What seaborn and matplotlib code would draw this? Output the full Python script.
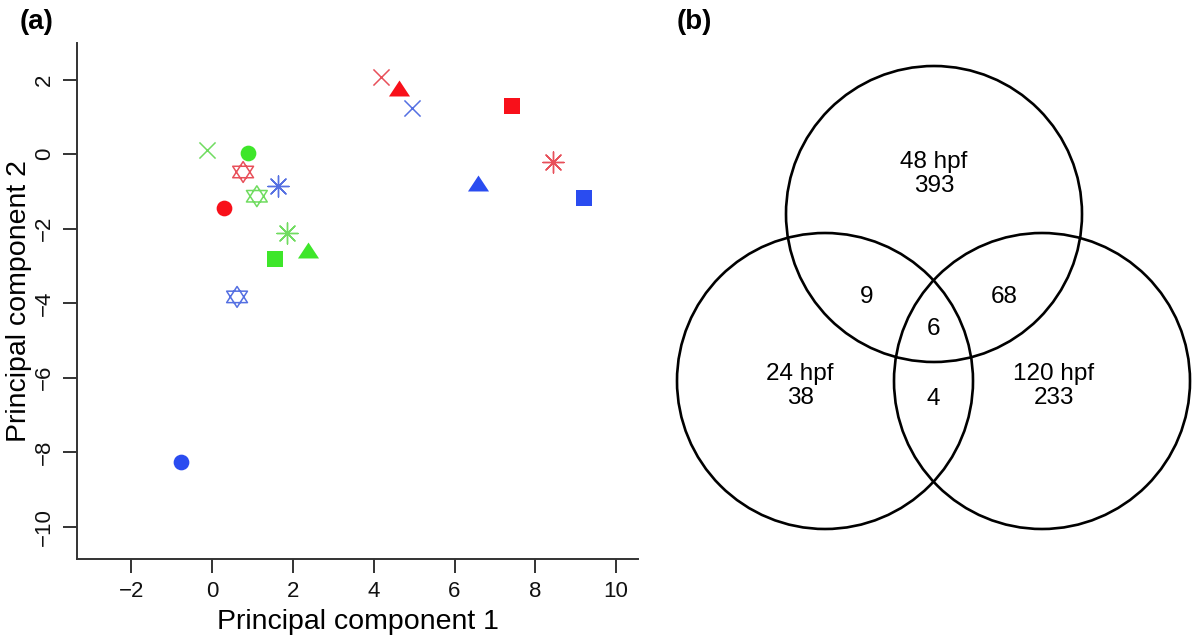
import numpy as np
import pandas as pd
import matplotlib
matplotlib.use("Agg")
import matplotlib.pyplot as plt
from matplotlib.path import Path
from matplotlib.patches import Circle
import seaborn as sns

# --- data (a): PCA scores ---
groups = ['red', 'red', 'red', 'red', 'red', 'red',
          'green', 'green', 'green', 'green', 'green', 'green',
          'blue', 'blue', 'blue', 'blue', 'blue', 'blue']
shapes = ['circle', 'triangle', 'square', 'cross', 'asterisk', 'david',
          'circle', 'triangle', 'square', 'cross', 'asterisk', 'david',
          'circle', 'triangle', 'square', 'cross', 'asterisk', 'david']
pc1 = [0.30, 4.63, 7.43, 4.18, 8.44, 0.77,
       0.89, 2.38, 1.56, -0.12, 1.86, 1.11,
       -0.77, 6.58, 9.21, 4.95, 1.63, 0.62]
pc2 = [-1.45, 1.77, 1.29, 2.06, -0.21, -0.48,
       0.03, -2.57, -2.82, 0.11, -2.12, -1.13,
       -8.26, -0.78, -1.18, 1.23, -0.86, -3.83]

# --- data (b): Venn counts ---
venn_sets = ['48 hpf', '24 hpf', '120 hpf']
venn_only = [393, 38, 233]
venn_pairs = [9, 68, 4]      # 48&24, 48&120, 24&120
venn_all = 6

df = pd.DataFrame({'pc1': pc1, 'pc2': pc2, 'group': groups, 'shape': shapes})

sns.set_style('white')
plt.rcParams['font.family'] = ['Liberation Sans', 'DejaVu Sans']
plt.rcParams['text.color'] = 'black'
plt.rcParams['axes.labelcolor'] = 'black'

colors = {'red': '#F8101A', 'green': '#3EE62A', 'blue': '#2A4CF0'}
line_colors = {'red': '#E8505A', 'green': '#70DC60', 'blue': '#5570E2'}

tri = Path([(0, 0.5), (-0.66, -0.5), (0.66, -0.5), (0, 0.5)],
           [Path.MOVETO, Path.LINETO, Path.LINETO, Path.CLOSEPOLY])
david = Path([(0, 1), (-1, -0.55), (1, -0.55), (0, 1),
              (0, -1), (-1, 0.55), (1, 0.55), (0, -1)],
             [Path.MOVETO, Path.LINETO, Path.LINETO, Path.CLOSEPOLY,
              Path.MOVETO, Path.LINETO, Path.LINETO, Path.CLOSEPOLY])

# marker, size, kind, linewidth
marker_style = {
    'circle': ('o', 128, 'filled', 0),
    'triangle': (tri, 230, 'filled', 0),
    'square': ('s', 125, 'filled', 0),
    'cross': ('x', 135, 'line', 1.1),
    'asterisk': ((8, 2, 0), 230, 'line', 1.0),
    'david': (david, 225, 'open', 1.1),
}

fig = plt.figure(figsize=(12, 6.39), dpi=100)

ax = fig.add_axes([77 / 1200, 1 - 559 / 639, (638 - 77) / 1200, (559 - 43) / 639])
for (g, s), sub in df.groupby(['group', 'shape']):
    m, size, kind, lw = marker_style[s]
    if kind == 'filled':
        sns.scatterplot(data=sub, x='pc1', y='pc2', marker=m, s=size,
                        color=colors[g], edgecolor=colors[g], linewidth=lw, ax=ax)
    elif kind == 'open':
        sns.scatterplot(data=sub, x='pc1', y='pc2', marker=m, s=size,
                        color=line_colors[g], facecolor='none',
                        edgecolor=line_colors[g], linewidth=lw, ax=ax)
    else:
        ax.scatter(sub['pc1'], sub['pc2'], marker=m, s=size,
                   color=line_colors[g], linewidths=lw)

ax.set_xlim(-3.34, 10.54)
ax.set_ylim(-10.86, 2.98)
ax.set_xticks(np.arange(-2, 11, 2))
ax.set_yticks(np.arange(-10, 3, 2))
for lab in ax.get_yticklabels():
    lab.set_rotation(90)
    lab.set_va('center')
ax.tick_params(axis='both', direction='out', length=10, width=1.4,
               color='#333333', labelsize=16, labelcolor='#111111', pad=6,
               bottom=True, left=True)
for side in ['top', 'right']:
    ax.spines[side].set_visible(False)
for side in ['left', 'bottom']:
    ax.spines[side].set_color('#333333')
    ax.spines[side].set_linewidth(1.4)
ax.set_xlabel('Principal component 1', fontsize=20.5, labelpad=5)
ax.set_ylabel('Principal component 2', fontsize=20.5, labelpad=1)
ax.set_facecolor('white')

# --- panel (b): Venn diagram in pixel-like coordinates ---
vx = fig.add_axes([650 / 1200, 0, 550 / 1200, 1])
vx.set_xlim(650, 1200)
vx.set_ylim(639, 0)
vx.axis('off')

r = 148
cx, cy = 934, 214
centers = [(cx, cy), (cx - 109, cy + 167), (cx + 108, cy + 167)]
for c in centers:
    vx.add_patch(Circle(c, r, fill=False, lw=1.9, ec='black'))

fs = 17.5
ls = 1.15
vx.text(cx, cy - 40, f'{venn_sets[0]}\n{venn_only[0]}', ha='center', va='center',
        fontsize=fs, linespacing=ls)
vx.text(centers[1][0] - 25, centers[1][1] + 5, f'{venn_sets[1]}\n{venn_only[1]}',
        ha='center', va='center', fontsize=fs, linespacing=ls)
vx.text(centers[2][0] + 12, centers[2][1] + 5, f'{venn_sets[2]}\n{venn_only[2]}',
        ha='center', va='center', fontsize=fs, linespacing=ls)
vx.text(cx - 67, 297, str(venn_pairs[0]), ha='center', va='center', fontsize=fs)
vx.text(cx + 70, 297, str(venn_pairs[1]), ha='center', va='center', fontsize=fs)
vx.text(cx - 1, 399, str(venn_pairs[2]), ha='center', va='center', fontsize=fs)
vx.text(cx - 1, 329, str(venn_all), ha='center', va='center', fontsize=fs)

fig.text(20 / 1200, 1 - 22 / 639, '(a)', fontsize=20, fontweight='bold', va='center')
fig.text(677 / 1200, 1 - 22 / 639, '(b)', fontsize=20, fontweight='bold', va='center')

fig.savefig('out.png', dpi=100, facecolor='white')
